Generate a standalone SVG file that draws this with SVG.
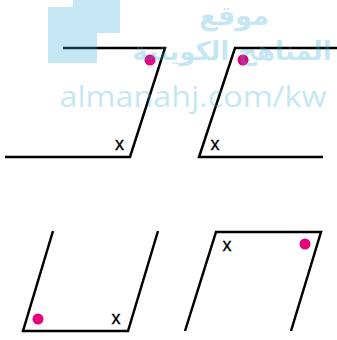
<svg xmlns="http://www.w3.org/2000/svg" width="337" height="340" viewBox="0 0 337 340">
<style>
.ln{fill:none;stroke:#000;stroke-width:2.5;stroke-linejoin:miter}
.dot{fill:#e6007e}
.x{font-family:"Liberation Sans",Arial,sans-serif;font-size:18px;fill:#000;stroke:#000;stroke-width:0.3;text-anchor:middle}
.wm{fill:#37b0d9;opacity:0.29}
.wmt{font-family:"DejaVu Sans",sans-serif;font-weight:bold;text-anchor:middle}
</style>
<rect width="337" height="340" fill="#fff"/>
<g id="fig1">
<polyline class="ln" points="63,48 165,48 130,157 5,157"/>
<circle class="dot" cx="150" cy="60" r="5.5"/>
<text class="x" x="119.5" y="150">x</text>
</g>
<g id="fig2">
<polyline class="ln" points="337,48 235,48 199,157 323,157"/>
<circle class="dot" cx="243" cy="60" r="5.5"/>
<text class="x" x="215" y="150">x</text>
</g>
<g id="fig3">
<polyline class="ln" points="53,231 23,331 128,331 158,231"/>
<circle class="dot" cx="38" cy="319" r="5.5"/>
<text class="x" x="116" y="324">x</text>
</g>
<g id="fig4">
<polyline class="ln" points="185,331 216,232 321,232 291,331"/>
<circle class="dot" cx="305" cy="244" r="5.5"/>
<text class="x" x="227" y="251">x</text>
</g>
<g id="watermark" class="wm">
<rect x="48" y="7" width="49" height="56"/>
<rect x="73" y="0" width="47" height="33"/>
<text class="wmt" x="234" y="25" font-size="27">موقع</text>
<text class="wmt" x="232" y="60" font-size="26">المناهج الكويتية</text>
<text x="193" y="107" font-family="'Open Sans',sans-serif" font-size="29" text-anchor="middle" textLength="267" lengthAdjust="spacingAndGlyphs">almanahj.com/kw</text>
</g>
</svg>
